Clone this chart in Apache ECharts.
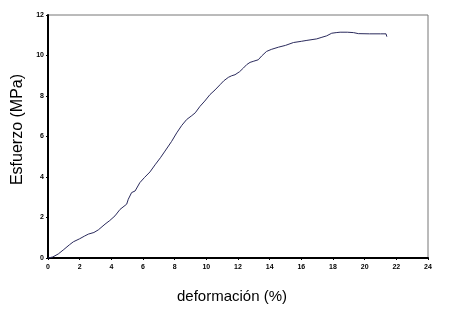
<!DOCTYPE html>
<html>
<head>
<meta charset="utf-8">
<script src="https://cdn.jsdelivr.net/npm/echarts@6/dist/echarts.min.js"></script>
<style>
  html, body { margin: 0; padding: 0; background: #fff; }
  #chart { width: 449px; height: 309px; }
</style>
</head>
<body>
<div id="chart"></div>
<script>
// deformación (%)
const strain = [
  0, 0.3, 0.65, 1.0, 1.35, 1.6, 2.0, 2.3, 2.55, 2.9, 3.18, 3.6, 3.9, 4.23, 4.55,
  4.97, 5.07, 5.28, 5.5, 5.8, 6.1, 6.44, 6.76, 7.1, 7.39, 7.8, 8.13, 8.45, 8.76,
  9.08, 9.3, 9.6, 9.9, 10.23, 10.55, 10.87, 11.1, 11.39, 11.6, 11.81, 12.1, 12.34,
  12.55, 12.76, 13.0, 13.28, 13.5, 13.8, 14.1, 14.55, 15.0, 15.5, 16.0, 16.3,
  16.97, 17.3, 17.6, 17.92, 18.2, 18.45, 18.9, 19.3, 19.6, 20.3, 21.0, 21.35, 21.4
];
// Esfuerzo (MPa)
const stress = [
  0, 0.05, 0.2, 0.42, 0.65, 0.8, 0.95, 1.08, 1.18, 1.26, 1.39, 1.67, 1.85, 2.08, 2.4,
  2.66, 2.9, 3.23, 3.31, 3.72, 3.98, 4.25, 4.6, 4.95, 5.28, 5.75, 6.18, 6.55, 6.84,
  7.03, 7.17, 7.49, 7.75, 8.07, 8.3, 8.56, 8.75, 8.92, 9.0, 9.05, 9.2, 9.38,
  9.55, 9.66, 9.72, 9.79, 9.98, 10.2, 10.3, 10.41, 10.5, 10.64, 10.7, 10.74,
  10.82, 10.9, 10.97, 11.1, 11.13, 11.15, 11.15, 11.13, 11.08, 11.07, 11.07, 11.07, 10.93
];

const xTicks = { min: 0, max: 24, interval: 2 };
const yTicks = { min: 0, max: 12, interval: 2 };

const chart = echarts.init(document.getElementById("chart"));

const tickLabel = {
  fontFamily: "Arial, Liberation Sans, sans-serif",
  fontSize: 7,
  fontWeight: "bold",
  color: "#000",
};

const option = {
  animation: false,
  grid: {
    left: 48,
    top: 15,
    right: 21,
    bottom: 50,
    show: true,
    borderColor: "#777",
    borderWidth: 1,
    backgroundColor: "#fff",
  },
  xAxis: {
    type: "value",
    min: xTicks.min,
    max: xTicks.max,
    interval: xTicks.interval,
    name: "deformación (%)",
    nameLocation: "middle",
    nameGap: 31,
    nameTextStyle: {
      fontFamily: "Arial, Liberation Sans, sans-serif",
      fontSize: 15,
      color: "#000",
      padding: [0, 12, 0, 0],
    },
    axisLine: { show: true, onZero: false, lineStyle: { color: "#000", width: 2 } },
    axisTick: { show: true, length: 2, lineStyle: { color: "#000" } },
    axisLabel: { ...tickLabel, margin: 6 },
    splitLine: { show: false },
  },
  yAxis: {
    type: "value",
    min: yTicks.min,
    max: yTicks.max,
    interval: yTicks.interval,
    name: "Esfuerzo (MPa)",
    nameLocation: "middle",
    nameGap: 16,
    nameTextStyle: {
      fontFamily: "Arial, Liberation Sans, sans-serif",
      fontSize: 16,
      color: "#000",
      padding: [0, 0, 0, 14],
    },
    axisLine: { show: true, onZero: false, lineStyle: { color: "#000", width: 2 } },
    axisTick: { show: true, length: 2, lineStyle: { color: "#000" } },
    axisLabel: { ...tickLabel, margin: 4 },
    splitLine: { show: false },
  },
  series: [
    {
      type: "line",
      data: strain.map((x, i) => [x, stress[i]]),
      showSymbol: false,
      lineStyle: { color: "#2a2a5c", width: 1 },
    },
  ],
};

chart.setOption(option);
</script>
</body>
</html>
